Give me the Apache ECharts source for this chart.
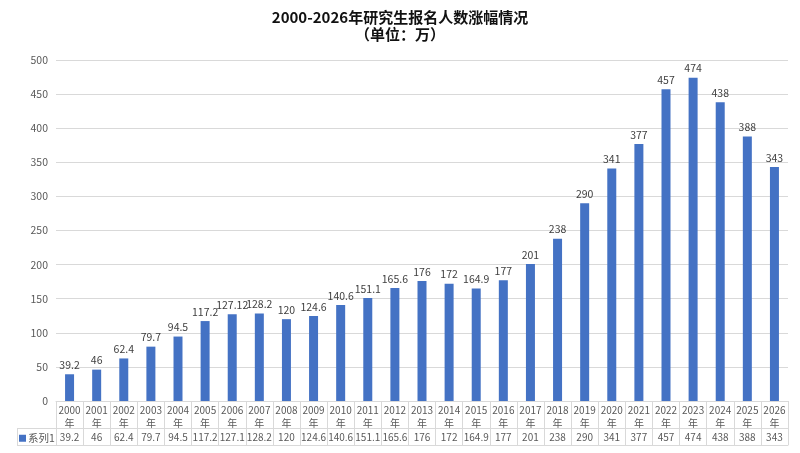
<!DOCTYPE html>
<html>
<head>
<meta charset="utf-8">
<style>
  html, body { margin: 0; padding: 0; background: #fff; }
  .container { width: 800px; height: 453px; }
</style>
<script src="https://cdn.jsdelivr.net/npm/echarts@6/dist/echarts.min.js"></script>
</head>
<body>
<div class="container"></div>
<script>
const years = ['2000', '2001', '2002', '2003', '2004', '2005', '2006', '2007', '2008',
    '2009', '2010', '2011', '2012', '2013', '2014', '2015', '2016', '2017', '2018',
    '2019', '2020', '2021', '2022', '2023', '2024', '2025', '2026'];
const applicants = [39.2, 46, 62.4, 79.7, 94.5, 117.2, 127.12, 128.2, 120, 124.6, 140.6,
    151.1, 165.6, 176, 172, 164.9, 177, 201, 238, 290, 341, 377, 457, 474, 438, 388, 343];
const yTicks = [0, 50, 100, 150, 200, 250, 300, 350, 400, 450, 500];

(function () {
    let myChart = echarts.init(document.querySelector('.container'));
    const font = '"Microsoft YaHei", "Noto Sans CJK SC", sans-serif';
    const border = '#D9D9D9';
    const labelColor = '#595959';
    // data table row: rounded to one decimal like the excel table
    const tableRow = applicants.map(v => String(Number(v.toFixed(1))));

    const option = {
        color: ['#4472C4'],
        textStyle: { fontFamily: font },
        title: {
            text: '2000-2026年研究生报名人数涨幅情况\n（单位：万）',
            left: 'center',
            top: 4,
            textStyle: {
                fontSize: 15,
                fontWeight: 'bold',
                color: '#111',
                lineHeight: 17,
                fontFamily: font
            }
        },
        legend: {
            data: ['系列1'],
            left: 14,
            top: 428,
            icon: 'rect',
            itemWidth: 7,
            itemHeight: 7,
            itemGap: 2,
            textStyle: { fontSize: 10.5, color: labelColor, padding: [0, 0, 0, -3] }
        },
        grid: {
            left: 56,
            right: 12,
            top: 60,
            bottom: 52
        },
        xAxis: [
            {
                type: 'category',
                data: years,
                position: 'bottom',
                axisLine: { show: true, lineStyle: { color: border } },
                axisTick: { show: true, length: 44, lineStyle: { color: border } },
                axisLabel: {
                    interval: 0,
                    margin: 3,
                    fontSize: 10,
                    lineHeight: 13,
                    color: labelColor,
                    formatter: v => v + '\n年'
                }
            },
            {
                type: 'category',
                data: tableRow,
                position: 'bottom',
                offset: 27,
                axisLine: { show: true, lineStyle: { color: border } },
                axisTick: { show: false },
                axisLabel: { interval: 0, margin: 4, fontSize: 10, color: labelColor }
            },
            {
                type: 'category',
                data: years,
                position: 'bottom',
                offset: 44,
                axisLine: { show: true, lineStyle: { color: border } },
                axisTick: { show: false },
                axisLabel: { show: false }
            }
        ],
        yAxis: {
            type: 'value',
            min: yTicks[0],
            max: yTicks[yTicks.length - 1],
            interval: 50,
            axisLine: { show: false },
            axisTick: { show: false },
            axisLabel: { fontSize: 10.5, color: labelColor, margin: 8 },
            splitLine: { lineStyle: { color: border } }
        },
        graphic: [
            { type: 'line', shape: { x1: 17, y1: 428.5, x2: 56, y2: 428.5 }, style: { stroke: border } },
            { type: 'line', shape: { x1: 17, y1: 445.5, x2: 56, y2: 445.5 }, style: { stroke: border } },
            { type: 'line', shape: { x1: 17.5, y1: 428, x2: 17.5, y2: 446 }, style: { stroke: border } }
        ],
        series: [
            {
                name: '系列1',
                type: 'bar',
                barWidth: 9,
                data: applicants,
                label: {
                    show: true,
                    position: 'top',
                    distance: 4,
                    fontSize: 10.5,
                    color: '#404040'
                }
            }
        ]
    };

    myChart.setOption(option);
})();
</script>
</body>
</html>
